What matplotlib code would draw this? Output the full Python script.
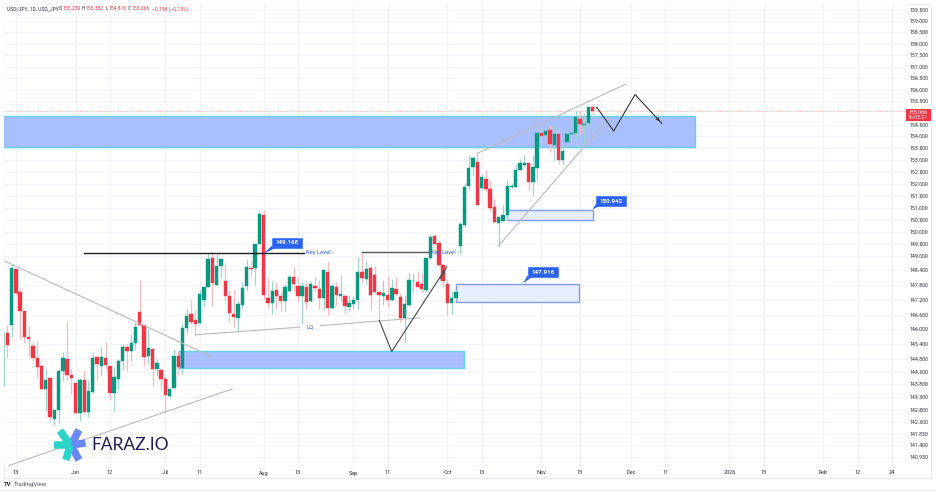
import numpy as np
import matplotlib
matplotlib.use("Agg")
import matplotlib.pyplot as plt
from matplotlib.lines import Line2D
from matplotlib.patches import Rectangle
from matplotlib.ticker import NullLocator, FixedLocator, FixedFormatter

## ------------------
## Candle data (USD/JPY daily)
## ------------------
opens = [145.85,146.17,148.45,147.51,146.74,145.70,145.32,144.86,144.51,143.60,144.04,142.43,142.80,144.32,144.80,144.17,143.85,142.68,143.97,142.69,
         143.51,144.88,144.54,144.86,144.52,143.46,144.00,144.72,145.28,145.11,145.46,146.71,146.18,144.92,145.20,144.40,144.36,144.03,143.35,143.66,
         144.92,144.45,146.06,146.63,146.36,146.26,147.20,147.74,148.90,147.82,148.58,147.98,147.37,146.63,146.47,147.00,147.75,148.51,148.50,149.47,
         150.68,147.28,147.08,147.60,147.37,147.13,147.55,148.13,147.78,147.37,147.74,147.17,147.78,147.65,147.28,148.33,146.88,147.74,147.36,147.37,
         146.89,147.01,147.20,148.33,148.04,148.50,148.21,147.51,147.35,147.40,147.20,147.63,147.33,146.46,146.97,147.96,147.93,147.85,147.58,148.90,
         149.82,149.51,148.63,147.85,147.07,147.28,149.40,150.28,151.91,152.69,152.93,151.84,152.21,151.78,151.02,150.37,150.43,150.68,151.87,151.88,
         152.56,152.80,152.86,152.09,152.68,154.14,154.04,154.26,153.65,154.12,153.02,153.76,154.09,154.13,154.76,154.48,154.56,155.24]
highs = [146.19,148.66,148.45,147.69,146.74,146.12,145.49,145.53,144.61,144.40,144.07,142.81,144.40,145.08,146.30,144.40,143.87,144.07,144.36,143.96,
         145.08,144.94,145.30,145.49,144.54,144.49,144.81,145.42,145.42,145.82,146.30,148.02,146.19,146.03,145.22,144.81,144.40,144.13,143.64,145.22,
         145.12,146.26,146.83,147.20,146.77,147.58,147.74,149.06,149.17,149.06,148.86,148.66,147.60,147.58,147.17,147.93,148.86,148.82,149.50,150.82,
         150.88,148.09,147.97,147.93,147.52,147.85,148.22,148.52,148.14,147.92,147.89,147.97,148.12,148.01,148.46,148.77,147.85,147.92,148.21,147.44,
         147.41,147.37,148.95,149.13,148.77,148.58,148.59,147.52,148.01,148.18,148.05,148.12,147.47,147.40,148.28,148.29,148.39,148.25,148.93,149.90,
         149.90,149.67,148.66,148.05,147.56,147.60,150.41,152.02,153.23,153.16,153.30,152.42,152.59,152.16,151.34,150.61,151.09,152.16,152.02,152.80,
         153.05,153.23,152.89,153.23,154.44,154.37,154.37,154.47,154.51,154.38,153.59,154.38,154.64,155.07,155.07,155.01,155.32,155.38]
lows = [144.84,145.71,147.40,145.62,145.46,144.94,144.74,144.09,143.62,142.76,142.38,142.18,142.27,143.93,143.96,143.43,142.61,142.34,142.68,142.49,
        143.46,143.96,144.13,144.40,143.16,142.76,143.60,144.38,144.31,144.74,145.22,146.09,144.52,144.61,143.73,144.13,143.59,142.65,143.31,143.64,
        144.17,144.20,145.82,146.20,145.75,146.23,146.90,147.73,146.93,147.78,148.13,147.17,146.30,146.11,145.89,146.83,147.56,148.18,147.82,149.47,
        147.24,146.88,146.63,146.84,146.75,146.74,147.51,147.55,147.11,146.23,146.83,147.11,147.55,146.84,146.80,146.59,146.84,146.97,147.17,146.66,
        146.79,146.84,146.84,147.88,147.85,146.84,147.47,146.36,146.97,146.92,147.15,147.37,146.30,145.49,146.93,147.52,147.71,147.51,147.50,148.86,
        149.43,148.59,147.73,146.60,146.63,147.24,149.06,150.21,151.74,152.33,151.09,151.74,151.70,150.86,150.35,149.40,150.43,150.45,151.81,151.85,
        152.56,152.72,151.74,151.52,152.16,153.66,153.94,153.33,152.95,152.83,152.80,153.53,153.74,153.87,154.09,153.66,154.43,154.82]
closes = [145.38,148.48,147.47,146.74,145.69,145.62,144.86,144.50,143.62,143.99,142.50,142.80,144.34,144.86,144.17,144.04,142.65,143.99,142.72,143.55,
          144.85,144.60,144.89,144.58,143.46,144.09,144.73,145.28,145.12,145.45,146.11,146.16,144.90,145.26,144.39,144.66,144.00,143.36,143.63,144.92,
          144.47,146.07,146.56,146.28,146.23,147.43,147.74,148.85,147.88,148.60,148.85,147.35,146.66,146.50,147.01,147.69,148.55,148.47,149.50,150.72,
          147.41,147.08,147.55,147.35,147.15,147.74,148.14,147.85,147.37,147.77,147.11,147.85,147.67,147.28,148.40,146.88,147.75,147.41,147.43,146.93,
          147.08,147.19,148.33,148.09,148.47,147.41,147.51,147.41,147.47,147.20,147.69,147.44,146.46,147.03,148.01,147.98,147.71,147.62,148.90,149.78,
          149.50,148.62,147.98,147.08,147.28,147.50,150.31,151.85,152.68,153.07,151.10,152.28,151.77,151.00,150.39,150.61,150.71,151.90,151.92,152.56,
          152.86,152.86,152.09,152.71,154.16,154.02,154.21,153.66,154.10,153.02,153.40,154.12,154.16,154.82,154.54,154.51,155.25,155.07]

## partly hidden bar on the left edge, only the wick shows
edge_wick = (145.90, 143.72)

price_ticks = [159.5,159.0,158.5,158.0,157.5,157.0,156.5,156.0,155.5,154.5,154.0,153.5,153.0,152.5,152.0,151.5,151.0,150.5,150.0,
               149.5,149.0,148.4,147.8,147.2,146.6,146.0,145.4,144.8,144.3,143.8,143.3,142.8,142.3,141.85,141.4,140.95]
date_ticks = [2,16,24,37,45,60,68,81,89,103,111,125,134,146,154,169,177,191,199,207]
date_labels = ["13","Jun","12","Jul","11","Aug","13","Sep","11","Oct","13","Nov","13","Dec","11","2026","13","Feb","12","24"]

last_price = 155.066

## drawings, as (bar index, price)
zone_main = (-1.0, 160.9, 153.54, 154.87)
zone_low = (39.9, 106.95, 144.46, 145.11)
box_147 = (104.9, 133.9, 147.11, 147.86)
box_150 = (116.9, 137.0, 150.49, 150.91)
trend_lines = [
    ([-0.7, 48.07], [148.79, 144.88]),
    ([0.23, 52.75], [140.60, 143.62]),
    ([43.93, 68.5], [145.78, 146.09]),
    ([73.2, 96.6], [146.15, 146.47]),
    ([109.85, 144.8], [153.27, 156.25]),
    ([114.9, 140.9], [149.40, 154.80]),
]
key_levels = [(17.95, 69.4, 149.13, "#1e1e1e"), (82.9, 98.4, 149.14, "#555555")]
swing_x = [87.06, 89.96, 102.83]
swing_y = [146.36, 145.11, 148.54]
path_x = [137.93, 141.91, 146.9, 153.15]
path_y = [155.25, 154.23, 155.79, 154.56]
callouts = [("149.168", 65.5, 149.53, 60.07, 149.10),
            ("147.916", 125.4, 148.33, 120.7, 147.87),
            ("150.942", 141.3, 151.27, 137.0, 150.93)]

UP = "#089981"
DOWN = "#f23645"
BLUE = "#2962ff"
INK = "#2f323a"
FONT = "Roboto"

W, H = 936, 492


def fx(x):
    return x / W


def fy(y):
    return 1 - y / H


fig = plt.figure(figsize=(W / 100, H / 100), dpi=100, facecolor="white")
ax = fig.add_axes([fx(4), fy(468), fx(907) - fx(4), fy(3.5) - fy(468)])

ax.set_yscale("log")
ax.set_xlim(-0.77, 210.55)
ax.set_ylim(140.51, 159.765)

## ------------------
## Grid and axes
## ------------------
ax.yaxis.set_major_locator(FixedLocator(price_ticks))
ax.yaxis.set_major_formatter(FixedFormatter([f"{p:.3f}" for p in price_ticks]))
ax.yaxis.set_minor_locator(NullLocator())
ax.yaxis.tick_right()
ax.set_xticks(date_ticks)
ax.set_xticklabels(date_labels)
ax.tick_params(axis="y", length=0, pad=1.8, labelsize=3.8, labelcolor=INK)
ax.tick_params(axis="x", length=0, pad=1.8, labelsize=4.0, labelcolor=INK)
for lab in ax.get_xticklabels() + ax.get_yticklabels():
    lab.set_fontfamily(FONT)
ax.grid(True, color="#f3f4f7", lw=0.8)
ax.set_axisbelow(True)
for s in ax.spines.values():
    s.set_visible(False)

## ------------------
## Zones
## ------------------
for x0, x1, y0, y1 in [zone_main, zone_low]:
    ax.add_patch(Rectangle((x0, y0), x1 - x0, y1 - y0, fc="#a9bfff", ec="#5fd3ea", lw=1.0, zorder=1.5))
for x0, x1, y0, y1 in [box_147, box_150]:
    ax.add_patch(Rectangle((x0, y0), x1 - x0, y1 - y0, fc="#e8edfd", ec="#7d9df5", lw=1.0, zorder=1.5))

## ------------------
## Candles
## ------------------
idx = np.arange(len(opens))
o = np.array(opens)
c = np.array(closes)
colors = np.where(c >= o, UP, DOWN)
wick_colors = np.where(c >= o, "#9fd6cc", "#fbb8be")
ax.vlines(idx, lows, highs, colors=wick_colors, lw=0.9, zorder=2)
ax.vlines(-0.72, edge_wick[1], edge_wick[0], colors="#9fd6cc", lw=0.9, zorder=2)
bottoms = np.minimum(o, c)
ax.bar(idx, np.abs(c - o), bottom=bottoms, width=0.78, color=colors, edgecolor=colors, lw=0.3, zorder=3)

## ------------------
## Current price line and tag
## ------------------
ax.axhline(last_price, color="#f9b8be", lw=0.8, ls=(0, (1, 1)), zorder=1.8)
fig.add_artist(Rectangle((fx(906), fy(120.5)), fx(24.5), fy(109) - fy(120.5), transform=fig.transFigure,
                         fc=DOWN, ec="none", zorder=5))
fig.text(fx(918), fy(112), f"{last_price:.3f}", color="white", fontsize=3.8, family=FONT, ha="center", va="center", zorder=6)
fig.text(fx(918), fy(117.3), "16:03:21", color="white", fontsize=3.8, family=FONT, ha="center", va="center", zorder=6)

## ------------------
## Drawings
## ------------------
for xs, ys in trend_lines:
    ax.plot(xs, ys, color="#bbbbbb", lw=0.8, zorder=4, solid_capstyle="butt")
for x0, x1, y, col in key_levels:
    ax.plot([x0, x1], [y, y], color=col, lw=1.0, zorder=4)

ax.plot(swing_x, swing_y, color="#4a4a4a", lw=0.8, zorder=4)
ax.annotate("", xy=(swing_x[-1], swing_y[-1]), xytext=(swing_x[-2] + 11, 147.95),
            arrowprops=dict(arrowstyle="->", color="#4a4a4a", lw=0.7, mutation_scale=5), zorder=4)
ax.plot(path_x, path_y, color="#333333", lw=0.8, zorder=4)
ax.annotate("", xy=(path_x[-1], path_y[-1]), xytext=(path_x[-1] - 1.5, 154.85),
            arrowprops=dict(arrowstyle="->", color="#333333", lw=0.7, mutation_scale=5), zorder=4)

ax.text(69.8, 149.13, "Key Level -", color=BLUE, fontsize=4.2, family=FONT, va="center", zorder=5)
ax.text(99.2, 149.14, "Key Level -", color=BLUE, fontsize=4.2, family=FONT, va="center", zorder=5)
ax.text(70.9, 146.12, "LQ", color=BLUE, fontsize=4.2, family=FONT, ha="center", va="center", zorder=5)

for label, tx, ty, tip_x, tip_y in callouts:
    ax.add_patch(Rectangle((tx - 3.5, ty - 0.195), 7.0, 0.39, fc=BLUE, ec=BLUE, lw=0.4, zorder=5))
    ax.fill([tx - 3.5, tx - 2.5, tip_x, tx - 3.5], [ty - 0.19, ty - 0.19, tip_y, ty - 0.1], color=BLUE, lw=0, zorder=5)
    ax.text(tx, ty, label, color="white", fontsize=4.5, fontweight="bold", family=FONT, ha="center", va="center", zorder=6)

## ------------------
## Header, frame, footer, logo
## ------------------
fig.add_artist(Rectangle((fx(4), fy(478)), fx(927), fy(3.5) - fy(478), transform=fig.transFigure,
                         fc="none", ec="#e9ebf2", lw=0.9, zorder=0))
fig.add_artist(Line2D([0, 1], [fy(490), fy(490)], color="#f0f1f4", lw=0.7))

header = [(7, "USD/JPY, 1D, USD_JPY", INK), (59, "O", INK), (62.5, "155.239", DOWN), (82, "H", INK),
          (85.3, "155.382", DOWN), (105.7, "L", INK), (108.2, "154.816", DOWN), (128, "C", INK),
          (131.2, "155.066", DOWN), (151.7, "\u22120.198 (\u22120.13%)", DOWN)]
for x, s, col in header:
    fig.text(fx(x), fy(9), s, color=col, fontsize=3.6, family=FONT, va="center", zorder=6)

fig.text(fx(4), fy(484.5), "TV", color="#1e222d", fontsize=4.2, fontweight="bold", family=FONT, va="center")
fig.text(fx(13.5), fy(484.5), "TradingView", color="#50535e", fontsize=4.3, family=FONT, va="center")

fig.text(fx(91), fy(445.5), "FARAZ.IO", color="#211d52", fontsize=12.5, family="Lato", va="center", zorder=6)
## logo arms
teal = "#2ad4c8"
peri = "#6b86f5"
arms = [((71, 445), (85.5, 443), peri), ((71, 445), (79, 430), peri), ((71, 445), (79, 460), peri),
        ((70, 445), (53.5, 445), teal), ((70, 445), (60, 430.5), teal), ((70, 445), (66, 460), teal)]
for p0, p1, col in arms:
    fig.add_artist(Line2D([fx(p0[0]), fx(p1[0])], [fy(p0[1]), fy(p1[1])], color=col, lw=5.4,
                          solid_capstyle="butt", zorder=6))

fig.savefig("out.png", dpi=100)
